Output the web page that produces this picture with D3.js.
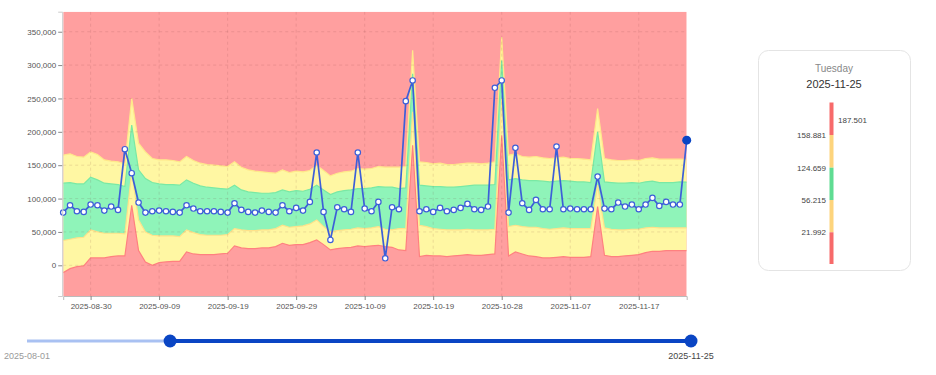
<!DOCTYPE html>
<html>
<head>
<meta charset="utf-8">
<script src="https://cdn.jsdelivr.net/npm/d3@7"></script>
<style>
  html, body { margin: 0; padding: 0; background: #fff; }
  svg { display: block; font-family: "Liberation Sans", Arial, sans-serif; }
</style>
</head>
<body>
<svg id="chart" width="936" height="375"></svg>
<script>
// ---------- DATA ----------
const dates = [
  "2025-08-26","2025-08-27","2025-08-28","2025-08-29","2025-08-30","2025-08-31",
  "2025-09-01","2025-09-02","2025-09-03","2025-09-04","2025-09-05","2025-09-06","2025-09-07","2025-09-08","2025-09-09","2025-09-10",
  "2025-09-11","2025-09-12","2025-09-13","2025-09-14","2025-09-15","2025-09-16","2025-09-17","2025-09-18","2025-09-19","2025-09-20",
  "2025-09-21","2025-09-22","2025-09-23","2025-09-24","2025-09-25","2025-09-26","2025-09-27","2025-09-28","2025-09-29","2025-09-30",
  "2025-10-01","2025-10-02","2025-10-03","2025-10-04","2025-10-05","2025-10-06","2025-10-07","2025-10-08","2025-10-09","2025-10-10",
  "2025-10-11","2025-10-12","2025-10-13","2025-10-14","2025-10-15","2025-10-16","2025-10-17","2025-10-18","2025-10-19","2025-10-20",
  "2025-10-21","2025-10-22","2025-10-23","2025-10-24","2025-10-25","2025-10-26","2025-10-26","2025-10-27","2025-10-28","2025-10-29",
  "2025-10-30","2025-10-31","2025-11-01","2025-11-02","2025-11-03","2025-11-04","2025-11-05","2025-11-06","2025-11-07","2025-11-08",
  "2025-11-09","2025-11-10","2025-11-11","2025-11-12","2025-11-13","2025-11-14","2025-11-15","2025-11-16","2025-11-17","2025-11-18",
  "2025-11-19","2025-11-20","2025-11-21","2025-11-22","2025-11-23","2025-11-24"
];

// actual values
const values = [
  79000, 90000, 81000, 80000, 91000, 90000, 82000, 88000, 83000, 174000,
  138000, 94000, 79000, 81000, 82000, 81000, 80000, 79000, 90000, 85000,
  81000, 81000, 81000, 80000, 79000, 93000, 83000, 80000, 79000, 82000,
  80000, 79000, 90000, 81000, 86000, 82000, 95000, 169000, 80000, 38000,
  87000, 84000, 80000, 169000, 85000, 81000, 95000, 10500, 87000, 84000,
  246000, 277000, 81000, 84000, 80000, 86000, 81000, 83000, 86000, 92000,
  84000, 83000, 88000, 266000, 277000, 79000, 176000, 93000, 83000, 98000,
  84000, 84000, 178000, 84000, 85000, 84000, 84000, 84000, 133000, 85000,
  84000, 94000, 88000, 91000, 84000, 91000, 101000, 89000, 95000, 91000,
  91000, 187501
];

// upper outer limit (top of upper yellow band)
const high2 = [
  165000, 167000, 163000, 162000, 170000, 166000, 158000, 156000, 155000, 152000,
  250000, 183000, 170000, 160000, 158000, 158000, 157000, 155000, 163000, 157000,
  153000, 151000, 150000, 149000, 148000, 155000, 147000, 143000, 141000, 140000,
  139000, 138000, 143000, 139000, 141000, 140000, 142000, 150000, 142000, 134000,
  138000, 140000, 141000, 145000, 144000, 145000, 148000, 147000, 147000, 147000,
  148000, 322000, 155000, 154000, 152000, 153000, 151000, 151000, 152000, 153000,
  153000, 152000, 153000, 155000, 342000, 165000, 167000, 163000, 162000, 163000,
  161000, 160000, 161000, 162000, 160000, 160000, 159000, 158000, 235000, 160000,
  158000, 157000, 157000, 158000, 157000, 160000, 161000, 159000, 159000, 159000,
  159000, 158881
];

// upper inner limit (top of green band)
const high1 = [
  123000, 124000, 122000, 122000, 132000, 128000, 123000, 122000, 121000, 118000,
  210000, 143000, 130000, 124000, 122000, 121000, 121000, 120000, 128000, 123000,
  119000, 117000, 116000, 115000, 114000, 120000, 113000, 110000, 109000, 108000,
  108000, 109000, 113000, 110000, 112000, 111000, 114000, 120000, 113000, 106000,
  110000, 112000, 113000, 115000, 115000, 116000, 118000, 117000, 117000, 115000,
  116000, 287000, 120000, 119000, 118000, 118000, 117000, 117000, 118000, 119000,
  120000, 120000, 120000, 121000, 307000, 128000, 130000, 128000, 127000, 127000,
  126000, 125000, 126000, 127000, 126000, 125000, 125000, 124000, 200000, 125000,
  124000, 123000, 123000, 124000, 123000, 125000, 126000, 124000, 124000, 124000,
  125000, 124659
];

// lower inner limit (bottom of green band)
const low1 = [
  37000, 39000, 41000, 42000, 53000, 50000, 48000, 48000, 48000, 47000,
  140000, 68000, 50000, 45000, 44000, 44000, 44000, 43000, 53000, 49000,
  46000, 45000, 45000, 45000, 46000, 55000, 53000, 52000, 52000, 53000,
  53000, 55000, 60000, 57000, 58000, 59000, 62000, 68000, 58000, 50000,
  52000, 53000, 54000, 56000, 55000, 56000, 58000, 54000, 53000, 55000,
  55000, 230000, 60000, 58000, 55000, 54000, 53000, 53000, 53000, 54000,
  53000, 53000, 53000, 54000, 250000, 58000, 60000, 58000, 57000, 57000,
  55000, 54000, 55000, 56000, 55000, 55000, 55000, 55000, 120000, 56000,
  54000, 53000, 53000, 54000, 54000, 56000, 57000, 56000, 56000, 56000,
  56000, 56215
];

// lower outer limit (bottom of lower yellow band)
const low2 = [
  -11000, -5000, -2000, -1000, 11000, 11000, 11000, 13000, 14000, 14000,
  90000, 22000, 5000, 0, 4000, 5000, 6000, 6000, 20000, 17000,
  16000, 16000, 16000, 17000, 18000, 29000, 26000, 25000, 25000, 26000,
  26000, 28000, 33000, 30000, 31000, 31000, 34000, 38000, 31000, 23000,
  25000, 26000, 27000, 29000, 28000, 29000, 30000, 28000, 27000, 23000,
  22000, 180000, 13000, 15000, 14000, 14000, 13000, 14000, 15000, 16000,
  15000, 15000, 16000, 17000, 195000, 14000, 20000, 17000, 14000, 13000,
  11000, 11000, 12000, 13000, 12000, 12000, 12000, 13000, 88000, 15000,
  13000, 13000, 14000, 15000, 16000, 19000, 21000, 21000, 22000, 22000,
  22000, 21992
];

const yTickValues = [0, 50000, 100000, 150000, 200000, 250000, 300000, 350000];
const xTickEvery = 10, xTickOffset = 4;

const legendDay = "Tuesday";
const legendDate = "2025-11-25";
const legendLabels = ["187.501", "158.881", "124.659", "56.215", "21.992"];

const sliderMin = "2025-08-01";
const sliderMax = "2025-11-25";
const sliderStart = "2025-08-26";

// ---------- LAYOUT ----------
const svg = d3.select("#chart");
const plot = { left: 63.2, right: 686.7, top: 11.7, bottom: 296 };

const x = d3.scalePoint().domain(d3.range(dates.length)).range([plot.left, plot.right]);
const y = d3.scaleLinear().domain([-46000, 380000]).range([plot.bottom, plot.top]);

const COL = {
  red: "#ff9f9f", yellow: "#fff7a3", green: "#8ff4b9",
  line: "#3d5fd8", dot: "#0a45c4"
};

svg.append("defs").append("clipPath").attr("id", "plotclip")
  .append("rect").attr("x", plot.left).attr("y", plot.top)
  .attr("width", plot.right - plot.left).attr("height", plot.bottom - plot.top);

const g = svg.append("g").attr("clip-path", "url(#plotclip)");

// background red
g.append("rect").attr("x", plot.left).attr("y", plot.top)
  .attr("width", plot.right - plot.left).attr("height", plot.bottom - plot.top)
  .attr("fill", COL.red);

const idx = d3.range(dates.length);
const areaGen = (lo, hi) => d3.area().x(i => x(i)).y0(i => y(lo[i])).y1(i => y(hi[i]));
const lineGen = arr => d3.line().x(i => x(i)).y(i => y(arr[i]));

g.append("path").datum(idx).attr("d", areaGen(low2, high2)).attr("fill", COL.yellow);
g.append("path").datum(idx).attr("d", areaGen(low1, high1)).attr("fill", COL.green);

// boundary strokes
[[high2, "#ffe88a"], [high1, "#79e9a5"], [low1, "#ffe28a"], [low2, "#ff8080"]].forEach(([arr, c]) => {
  g.append("path").datum(idx).attr("d", lineGen(arr)).attr("fill", "none")
    .attr("stroke", c).attr("stroke-width", 1.2);
});

// grid lines
const xTicks = idx.filter(i => i % xTickEvery === xTickOffset);
g.selectAll(".vgrid").data(xTicks).enter().append("line")
  .attr("x1", i => x(i)).attr("x2", i => x(i)).attr("y1", plot.top).attr("y2", plot.bottom)
  .attr("stroke", "rgba(120,60,60,0.14)").attr("stroke-dasharray", "3,3");
g.selectAll(".hgrid").data(yTickValues).enter().append("line")
  .attr("x1", plot.left).attr("x2", plot.right).attr("y1", d => y(d)).attr("y2", d => y(d))
  .attr("stroke", "rgba(120,60,60,0.14)").attr("stroke-dasharray", "3,3");

// value line
const gl = svg.append("g");
gl.append("path").datum(idx).attr("d", lineGen(values)).attr("fill", "none")
  .attr("stroke", COL.line).attr("stroke-width", 1.7);
gl.selectAll(".pt").data(idx.slice(0, -1)).enter().append("circle")
  .attr("cx", i => x(i)).attr("cy", i => y(values[i])).attr("r", 2.7)
  .attr("fill", "#fff").attr("stroke", COL.line).attr("stroke-width", 1.2);
const last = idx[idx.length - 1];
gl.append("circle").attr("cx", x(last)).attr("cy", y(values[last])).attr("r", 4.5)
  .attr("fill", COL.dot);

// axes
const yAxis = d3.axisLeft(y).tickValues(yTickValues).tickSize(4).tickPadding(2)
  .tickFormat(d3.format(","));
const ya = svg.append("g").attr("transform", `translate(${plot.left - 1},0)`).call(yAxis);
ya.select(".domain").attr("stroke", "#ccc");
ya.selectAll(".tick line").attr("stroke", "#888");
ya.selectAll("text").attr("fill", "#555").style("font-size", "8px");

const xAxis = d3.axisBottom(x).tickValues(xTicks).tickSize(4).tickPadding(3)
  .tickFormat(i => dates[i]);
const xa = svg.append("g").attr("transform", `translate(0,${plot.bottom})`).call(xAxis);
xa.select(".domain").attr("stroke", "#bbb");
xa.selectAll(".tick line").attr("stroke", "#888");
xa.selectAll("text").attr("fill", "#555").style("font-size", "8px");

// ---------- LEGEND PANEL ----------
const lp = svg.append("g");
lp.append("rect").attr("x", 758.5).attr("y", 50.5).attr("width", 152).attr("height", 220)
  .attr("rx", 10).attr("fill", "#fff").attr("stroke", "#e4e4e4");
lp.append("text").attr("x", 834).attr("y", 72).attr("text-anchor", "middle")
  .attr("fill", "#888").style("font-size", "10px").text(legendDay);
lp.append("text").attr("x", 834).attr("y", 88).attr("text-anchor", "middle")
  .attr("fill", "#333").style("font-size", "11px").text(legendDate);

const barY = [102.5, 135, 167.7, 200, 232.3, 264];
const barCols = ["#f76a6a", "#fdd47c", "#5fdc92", "#fdd47c", "#f76a6a"];
barCols.forEach((c, k) => {
  lp.append("rect").attr("x", 829.5).attr("y", barY[k]).attr("width", 4)
    .attr("height", barY[k + 1] - barY[k]).attr("fill", c);
});
lp.append("text").attr("x", 838).attr("y", 123).attr("fill", "#444")
  .style("font-size", "8px").text(legendLabels[0]);
legendLabels.slice(1).forEach((t, k) => {
  lp.append("text").attr("x", 826).attr("y", barY[k + 1] + 3).attr("text-anchor", "end")
    .attr("fill", "#444").style("font-size", "8px").text(t);
});

// ---------- SLIDER ----------
const parse = d3.timeParse("%Y-%m-%d");
const sx = d3.scaleTime().domain([parse(sliderMin), parse(sliderMax)]).range([27, 691]);
const sy = 341;
const sg = svg.append("g");
sg.append("line").attr("x1", sx(parse(sliderMin))).attr("x2", sx(parse(sliderMax)))
  .attr("y1", sy).attr("y2", sy).attr("stroke", "#a9c1f2").attr("stroke-width", 3);
sg.append("line").attr("x1", sx(parse(sliderStart))).attr("x2", sx(parse(sliderMax)))
  .attr("y1", sy).attr("y2", sy).attr("stroke", "#0a45c4").attr("stroke-width", 4);
[sliderStart, sliderMax].forEach(d => {
  sg.append("circle").attr("cx", sx(parse(d))).attr("cy", sy).attr("r", 6.5).attr("fill", "#0a45c4");
});
sg.append("text").attr("x", sx(parse(sliderMin))).attr("y", 359).attr("text-anchor", "middle")
  .attr("fill", "#999").style("font-size", "9px").text(sliderMin);
sg.append("text").attr("x", sx(parse(sliderMax))).attr("y", 359).attr("text-anchor", "middle")
  .attr("fill", "#444").style("font-size", "9px").text(sliderMax);
</script>
</body>
</html>
